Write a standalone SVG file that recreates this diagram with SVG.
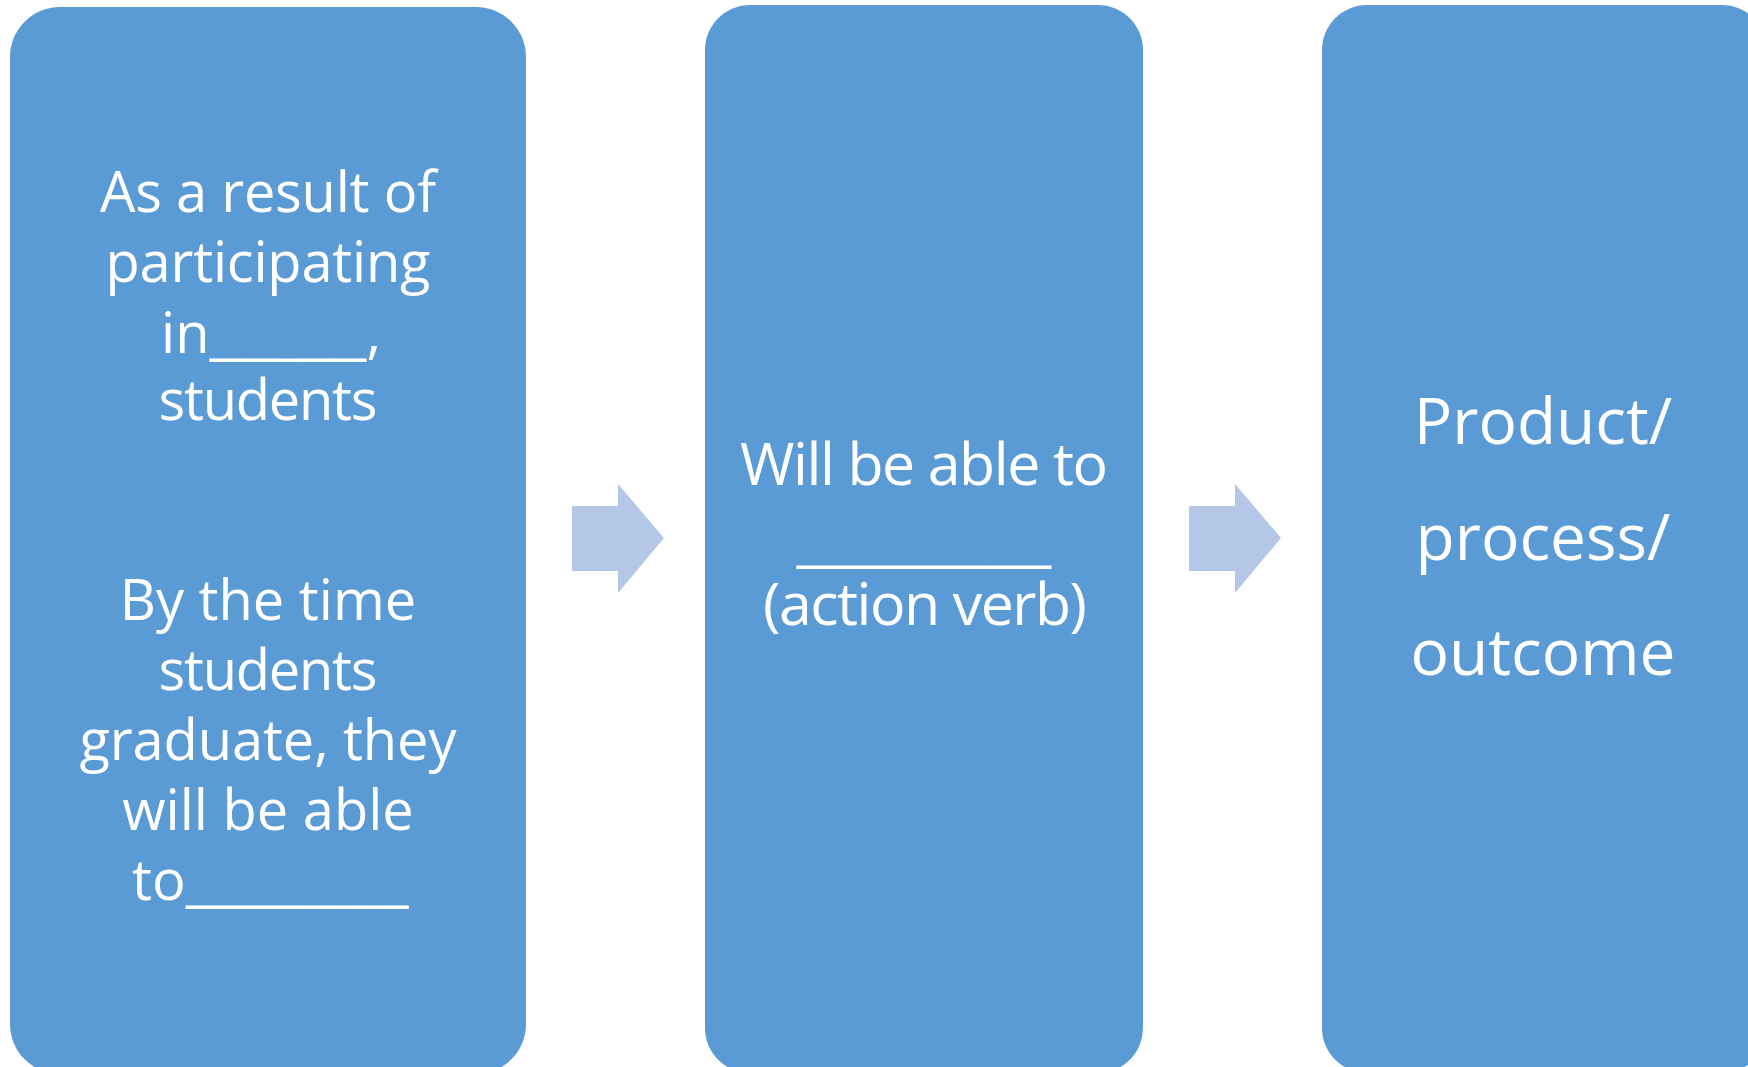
<svg xmlns="http://www.w3.org/2000/svg" width="1748" height="1067" viewBox="0 0 1748 1067">
<style>
.box{fill:#5B9BD5;}
.arrow{fill:#B4C7E7;}
text{font-family:"Open Sans","Noto Sans",sans-serif;fill:#FFFFFF;text-anchor:middle;}
.t1{font-size:56px;}
.t2{font-size:59px;}
.t3{font-size:64px;}
.l{text-anchor:start;}
</style>
<rect width="1748" height="1067" fill="#FFFFFF"/>
<g id="node-1">
<rect class="box" x="10" y="7" width="516" height="1067" rx="50" ry="50"/>
<text class="t1" x="268" y="212" textLength="336" lengthAdjust="spacing">As a result of</text>
<text class="t1" x="268" y="282" textLength="325" lengthAdjust="spacing">participating</text>
<text class="t1 l" x="161" y="353">in<tspan textLength="157" lengthAdjust="spacingAndGlyphs">_____</tspan>,</text>
<text class="t1" x="268" y="420" textLength="219" lengthAdjust="spacing">students</text>
<text class="t1" x="268" y="620">By the time</text>
<text class="t1" x="268" y="690" textLength="219" lengthAdjust="spacing">students</text>
<text class="t1" x="268" y="760" textLength="377" lengthAdjust="spacing">graduate, they</text>
<text class="t1" x="268" y="830">will be able</text>
<text class="t1 l" x="132" y="900">to<tspan textLength="223" lengthAdjust="spacingAndGlyphs">_______</tspan></text>
</g>
<g id="node-2">
<rect class="box" x="705" y="5" width="438" height="1068" rx="45" ry="45"/>
<text class="t2" x="924" y="485" textLength="368" lengthAdjust="spacing">Will be able to</text>
<text class="t2" x="924" y="560" textLength="255" lengthAdjust="spacingAndGlyphs">________</text>
<text class="t2" x="925" y="625" textLength="324" lengthAdjust="spacing">(action verb)</text>
</g>
<g id="node-3">
<rect class="box" x="1322" y="5" width="445" height="1068" rx="45" ry="45"/>
<text class="t3" x="1543" y="444">Product/</text>
<text class="t3" x="1543" y="560">process/</text>
<text class="t3" x="1543" y="675">outcome</text>
</g>
<g id="connectors">
<polygon class="arrow" points="572,506 618,506 618,484 664,538 618,593 618,571 572,571"/>
<polygon class="arrow" points="1189,506 1235,506 1235,484 1281,538 1235,593 1235,571 1189,571"/>
</g>
</svg>
